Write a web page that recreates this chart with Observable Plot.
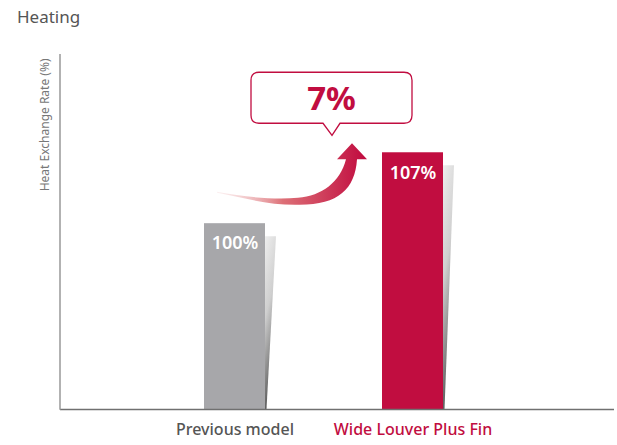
<!DOCTYPE html>
<html><head><meta charset="utf-8">
<script src="https://cdn.jsdelivr.net/npm/d3@7"></script>
<script src="https://cdn.jsdelivr.net/npm/@observablehq/plot@0.6"></script>
<style>
body{margin:0;background:#fff;font-family:"Noto Sans",sans-serif;}
#title{height:36px;box-sizing:border-box;padding:7px 0 0 17px;line-height:20px;font-size:17px;font-weight:450;color:#555;}
svg{display:block}
</style></head><body>
<div id="title">Heating</div>
<div id="chart"></div>
<script>
const categories = ["Previous model", "Wide Louver Plus Fin"];
const values = [100, 107];
const valueLabels = ["100%", "107%"];
const barColors = ["#a7a7aa", "#c10d40"];
const labelColors = ["#555555", "#c10d40"];
const changeLabel = "7%";
const yLabel = "Heat Exchange Rate (%)";
const yDomain = [81.66, 116.7];

const data = categories.map((name, i) => ({name, value: values[i], label: valueLabels[i], color: barColors[i], labelColor: labelColors[i]}));
const RED = "#c10d40";

const plot = Plot.plot({
  width: 617, height: 409,
  marginTop: 18, marginBottom: 36, marginLeft: 60, marginRight: 3,
  style: {fontFamily: "Noto Sans", background: "white"},
  x: {domain: categories, range: [60, 586], paddingInner: 0.659, paddingOuter: 0.799, axis: null},
  y: {domain: yDomain, axis: null},
  marks: [
    Plot.barY(data, {x: "name", y1: yDomain[0], y2: "value", fill: "color"}),
    Plot.text(data, {x: "name", y: "value", text: "label", dy: 20, fill: "white", fontSize: 18, fontWeight: 600, letterSpacing: "0.04em"}),
    Plot.text(data, {x: "name", frameAnchor: "bottom", text: "name", dy: 25, fill: "labelColor", fontSize: 16, fontWeight: 500}),
    Plot.text([yLabel], {frameAnchor: "top-left", rotate: -90, textAnchor: "end", dx: -20, dy: 4, fontSize: 12, fill: "#777"}),
    Plot.ruleY([yDomain[0]], {stroke: "#707070", strokeWidth: 1.5})
  ]
});
document.getElementById("chart").appendChild(plot);

const xs = plot.scale("x"), ys = plot.scale("y");
const bw = xs.bandwidth;
const svg = d3.select(plot);
const defs = svg.append("defs");

// y axis line
svg.append("line").attr("x1", 60).attr("x2", 60).attr("y1", ys.apply(yDomain[1])).attr("y2", ys.apply(yDomain[0]) + 0.75)
  .attr("stroke", "#999").attr("stroke-width", 1.5);

// shadows
const sg = defs.append("linearGradient").attr("id", "shadowGrad").attr("x1", 0).attr("y1", 0).attr("x2", 0.25).attr("y2", 1);
sg.append("stop").attr("offset", 0).attr("stop-color", "#eeeeee");
sg.append("stop").attr("offset", 0.45).attr("stop-color", "#cfcfcf");
sg.append("stop").attr("offset", 1).attr("stop-color", "#555555");
for (const d of data) {
  const bx = xs.apply(d.name) + bw;
  const top = ys.apply(d.value) + 13;
  const bottom = ys.apply(yDomain[0]);
  svg.insert("polygon", ":first-child")
    .attr("points", [[bx, top], [bx + 11, top], [bx + 1.5, bottom], [bx, bottom]].map(p => p.join(",")).join(" "))
    .attr("fill", "url(#shadowGrad)");
}

// arrow anchored to the taller bar
const H = [xs.apply(categories[1]) + bw / 2 - 60.5, ys.apply(values[1]) - 9];
const P = (dx, dy) => `${H[0] + dx},${H[1] + dy}`;
const ag = defs.append("linearGradient").attr("id", "arrowGrad").attr("gradientUnits", "userSpaceOnUse")
  .attr("x1", H[0] - 136).attr("y1", 0).attr("x2", H[0] + 12).attr("y2", 0);
ag.append("stop").attr("offset", 0).attr("stop-color", "#f4d4d4").attr("stop-opacity", 0.3);
ag.append("stop").attr("offset", 0.45).attr("stop-color", "#dd7077");
ag.append("stop").attr("offset", 1).attr("stop-color", RED);
svg.append("path")
  .attr("d", `M${P(-135, 48.5)} C${P(-107, 54)} ${P(-77, 56.5)} ${P(-54, 54.5)} C${P(-30, 52.5)} ${P(-12, 39)} ${P(-6, 16)}
    L${P(-15, 16)} L${P(0, 0)} L${P(15, 16)} L${P(5, 16)}
    C${P(3, 46)} ${P(-14, 62)} ${P(-54, 61.5)} C${P(-82, 62)} ${P(-107, 55)} ${P(-135, 49.5)} Z`)
  .attr("fill", "url(#arrowGrad)");

// callout
svg.append("path")
  .attr("d", `M${P(-93, -71)} L${P(52, -71)} Q${P(60, -71)} ${P(60, -63)} L${P(60, -28)} Q${P(60, -20)} ${P(52, -20)}
    L${P(-12, -20)} L${P(-20, -8)} L${P(-29, -20)} L${P(-93, -20)} Q${P(-101, -20)} ${P(-101, -28)} L${P(-101, -63)} Q${P(-101, -71)} ${P(-93, -71)} Z`)
  .attr("fill", "white").attr("stroke", RED).attr("stroke-width", 1.3);
svg.append("text").attr("x", H[0] - 20.5).attr("y", H[1] - 33)
  .attr("text-anchor", "middle").attr("fill", RED).attr("font-size", 33).attr("font-weight", 700)
  .attr("font-family", "Noto Sans").text(changeLabel);
</script>
</body></html>
